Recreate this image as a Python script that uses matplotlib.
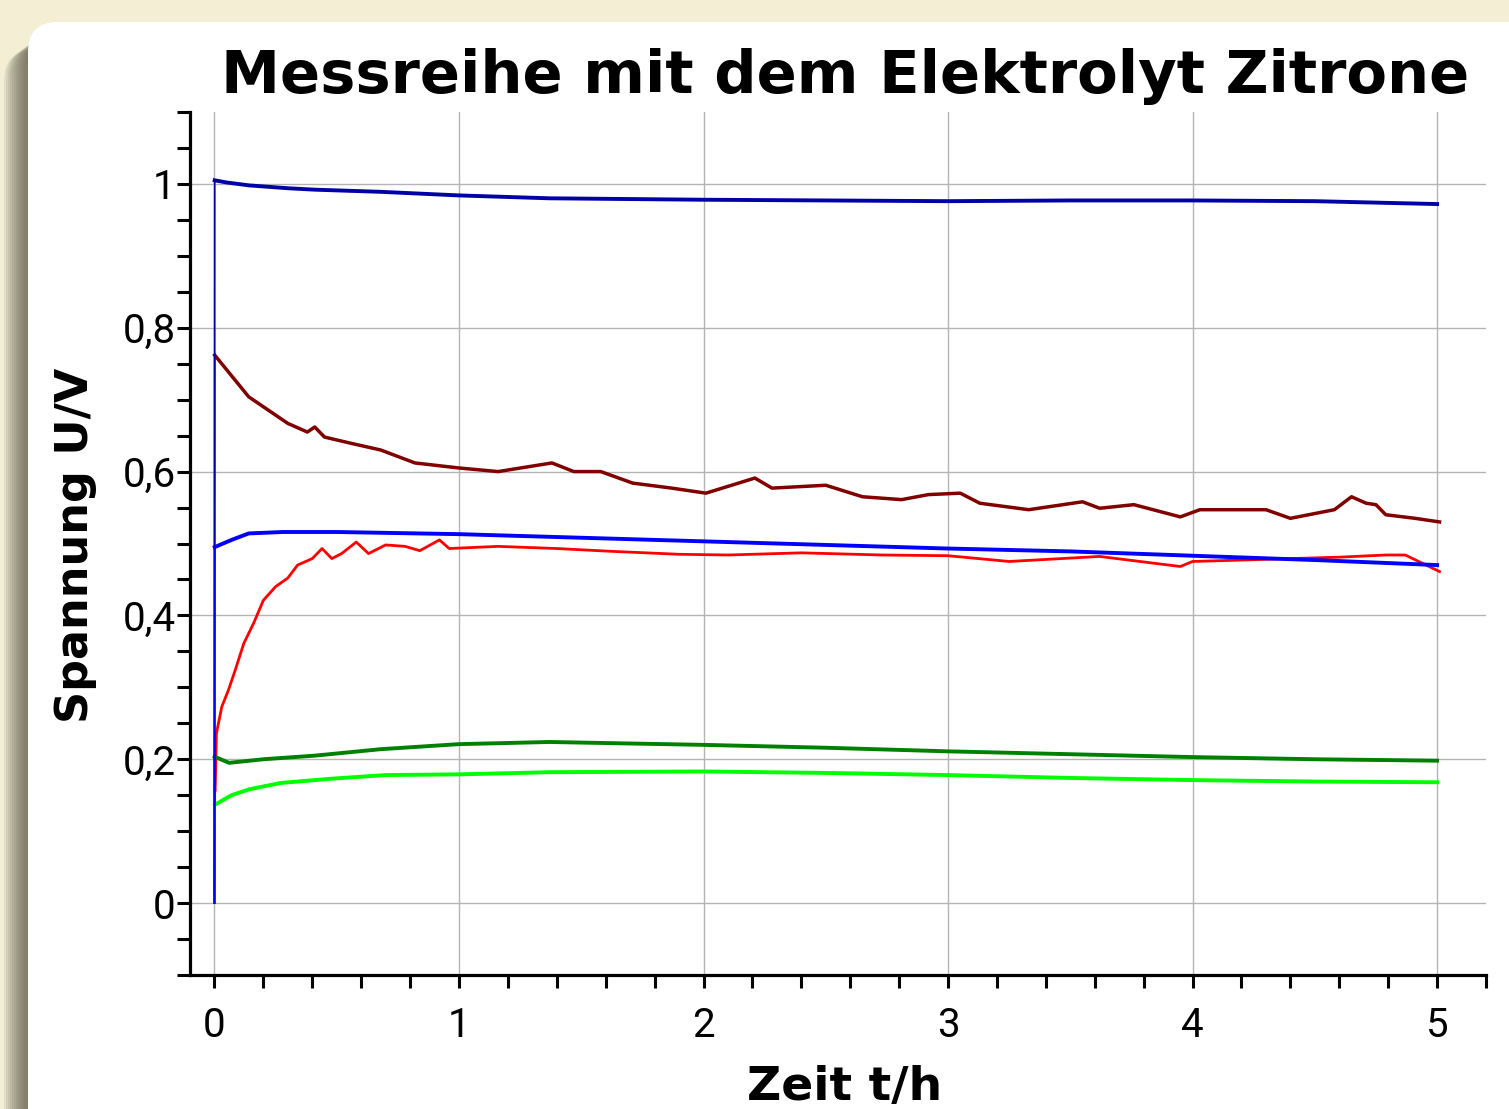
import matplotlib
matplotlib.use("Agg")
import matplotlib.pyplot as plt
from matplotlib.patches import FancyBboxPatch
from matplotlib.ticker import MultipleLocator, FuncFormatter

navy_t = [0, 0.001, 0.05, 0.14, 0.3, 0.41, 0.68, 1.0, 1.37, 2.0, 2.5, 3.0, 3.5, 4.0, 4.5, 5.0]
navy_v = [0, 1.005, 1.002, 0.998, 0.994, 0.992, 0.989, 0.984, 0.980, 0.978, 0.977, 0.976, 0.977, 0.977, 0.976, 0.972]

darkred_t = [0, 0.001, 0.14, 0.3, 0.38, 0.41, 0.45, 0.55, 0.68, 0.82, 1.0, 1.16, 1.38, 1.47, 1.58,
             1.71, 1.87, 2.01, 2.21, 2.28, 2.5, 2.65, 2.81, 2.92, 3.05, 3.13, 3.33, 3.55, 3.62,
             3.76, 3.95, 4.03, 4.3, 4.4, 4.58, 4.65, 4.71, 4.75, 4.79, 4.91, 5.01]
darkred_v = [0, 0.762, 0.704, 0.667, 0.655, 0.662, 0.648, 0.640, 0.630, 0.612, 0.605, 0.600, 0.612, 0.600, 0.600,
             0.584, 0.577, 0.570, 0.591, 0.577, 0.581, 0.565, 0.561, 0.568, 0.570, 0.556, 0.547, 0.558, 0.549,
             0.554, 0.537, 0.547, 0.547, 0.535, 0.547, 0.565, 0.556, 0.554, 0.540, 0.535, 0.530]

red_t = [0, 0.003, 0.008, 0.03, 0.057, 0.085, 0.12, 0.16, 0.2, 0.25, 0.3, 0.34, 0.4, 0.44, 0.48, 0.52,
         0.58, 0.63, 0.7, 0.78, 0.84, 0.92, 0.96, 1.16, 1.4, 1.63, 1.9, 2.1, 2.4, 2.73, 3.0, 3.25,
         3.62, 3.95, 4.0, 4.3, 4.6, 4.79, 4.87, 5.01]
red_v = [0, 0.157, 0.236, 0.273, 0.296, 0.324, 0.361, 0.389, 0.421, 0.440, 0.452, 0.470, 0.479, 0.493, 0.479, 0.486,
         0.502, 0.486, 0.498, 0.496, 0.490, 0.505, 0.493, 0.496, 0.493, 0.489, 0.485, 0.484, 0.487, 0.484, 0.483, 0.475,
         0.482, 0.468, 0.475, 0.478, 0.481, 0.484, 0.484, 0.461]

blue_t = [0, 0.001, 0.07, 0.14, 0.28, 0.5, 1.0, 1.5, 2.0, 2.5, 3.0, 3.5, 4.0, 4.5, 5.0]
blue_v = [0, 0.495, 0.505, 0.514, 0.516, 0.516, 0.513, 0.508, 0.503, 0.498, 0.493, 0.489, 0.483, 0.477, 0.470]

green_t = [0, 0.001, 0.06, 0.2, 0.41, 0.68, 1.0, 1.37, 2.0, 2.5, 3.0, 3.5, 4.0, 4.5, 5.0]
green_v = [0, 0.2035, 0.195, 0.200, 0.205, 0.214, 0.221, 0.224, 0.220, 0.216, 0.211, 0.207, 0.203, 0.200, 0.198]

lime_t = [0, 0.003, 0.07, 0.14, 0.27, 0.48, 0.7, 1.0, 1.37, 2.0, 2.5, 3.0, 3.5, 4.0, 4.5, 5.0]
lime_v = [0, 0.137, 0.150, 0.158, 0.167, 0.173, 0.178, 0.179, 0.182, 0.183, 0.181, 0.178, 0.174, 0.171, 0.169, 0.168]

W, H = 1509, 1109
fig = plt.figure(figsize=(W / 100, H / 100), dpi=100)
fig.patch.set_facecolor("#f4eed5")

# Hintergrund: weisse Karte mit weichem Schatten links
bg = fig.add_axes([0, 0, 1, 1], zorder=-5)
bg.set_xlim(0, W)
bg.set_ylim(H, 0)
bg.axis("off")
for k in range(12):
    left = 26 - 2 * k
    top = 34 + 1.5 * k
    bg.add_patch(FancyBboxPatch((left, top), 1700, 1300, boxstyle="round,pad=0,rounding_size=30",
                                facecolor="#5a5644", edgecolor="none", alpha=0.1))
bg.add_patch(FancyBboxPatch((28, 22), 1700, 1300, boxstyle="round,pad=0,rounding_size=30",
                            facecolor="white", edgecolor="none"))

ax = fig.add_axes([190 / W, 1 - 975 / H, (1486 - 190) / W, (975 - 112) / H])
ax.set_facecolor("none")

series = [
    (darkred_t, darkred_v, "#800000", 2.5),
    (red_t, red_v, "#ff0000", 2.0),
    (lime_t, lime_v, "#00ff00", 2.8),
    (green_t, green_v, "#008000", 2.8),
    (navy_t, navy_v, "#0000a8", 2.8),
    (blue_t, blue_v, "#0000ff", 2.8),
]
# Messkurven (ab dem ersten Messwert), dann der duenne Einschaltsprung bei t=0
for t, v, c, lw in series:
    ax.plot(t[1:], v[1:], color=c, lw=lw)
for t, v, c, lw in series:
    ax.plot(t[:2], v[:2], color=c, lw=1.3)

ax.set_xlim(-0.1, 5.2)
ax.set_ylim(-0.1, 1.1)
ax.xaxis.set_major_locator(MultipleLocator(1))
ax.xaxis.set_minor_locator(MultipleLocator(0.2))
ax.yaxis.set_major_locator(MultipleLocator(0.2))
ax.yaxis.set_minor_locator(MultipleLocator(0.05))
fmt = FuncFormatter(lambda v, p: ("%g" % round(v, 2)).replace(".", ","))
ax.xaxis.set_major_formatter(fmt)
ax.yaxis.set_major_formatter(fmt)
ax.grid(True, which="major", color="#b4b4b4", lw=1)

for s in ["top", "right"]:
    ax.spines[s].set_visible(False)
for s in ["left", "bottom"]:
    ax.spines[s].set_linewidth(2.3)

ax.tick_params(which="both", direction="out", length=9.5, width=2.2, color="black")
ax.tick_params(axis="y", which="major", pad=1)
ax.tick_params(axis="x", which="major", pad=13)
for lab in ax.get_xticklabels() + ax.get_yticklabels():
    lab.set_fontfamily("Roboto")
    lab.set_fontsize(29)

fig.text(845 / W, 1 - 93 / H, "Messreihe mit dem Elektrolyt Zitrone", ha="center", va="baseline",
         fontsize=42.7, fontweight="bold", family="DejaVu Sans")
fig.text(76 / W, 1 - 545 / H, "Spannung U/V", ha="center", va="center", rotation=90,
         fontsize=32, fontweight="bold", family="DejaVu Sans")
fig.text(845 / W, 1 - 1100 / H, "Zeit t/h", ha="center", va="baseline",
         fontsize=34, fontweight="bold", family="DejaVu Sans")

fig.savefig("out.png", dpi=100, facecolor=fig.get_facecolor())
